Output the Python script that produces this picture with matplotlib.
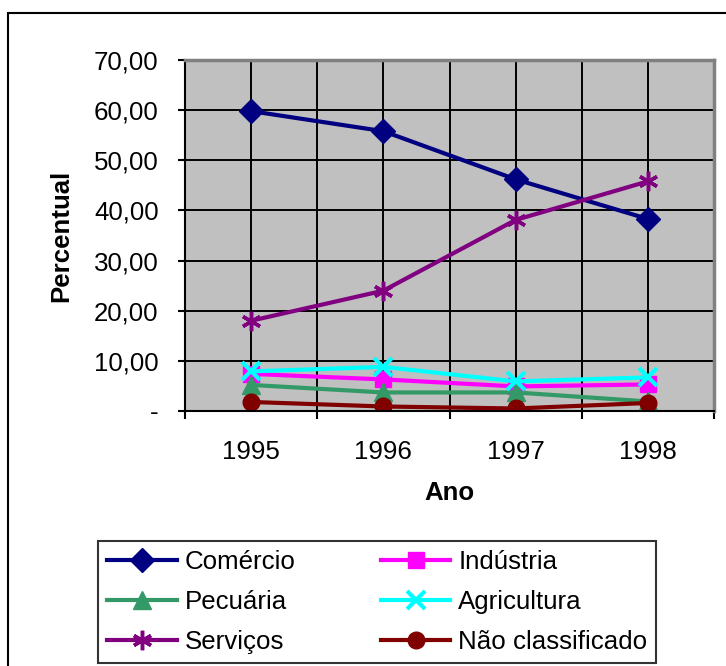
import matplotlib
matplotlib.use("Agg")
import matplotlib.pyplot as plt
from matplotlib.patches import Rectangle
from matplotlib.ticker import FixedLocator, NullFormatter

plt.rcParams['font.family'] = ['Liberation Sans', 'DejaVu Sans']

years = ['1995', '1996', '1997', '1998']
comercio = [59.8, 55.8, 46.2, 38.3]
industria = [7.4, 6.3, 4.9, 5.3]
pecuaria = [5.2, 3.7, 3.7, 1.9]
agricultura = [7.9, 8.8, 5.9, 6.7]
servicos = [18.0, 24.0, 38.1, 45.8]
nao_class = [1.8, 0.9, 0.5, 1.6]
yticks = [0, 10, 20, 30, 40, 50, 60, 70]
ytick_labels = ['-', '10,00', '20,00', '30,00', '40,00', '50,00', '60,00', '70,00']

W, H = 726, 666
fig = plt.figure(figsize=(W / 100, H / 100), dpi=100)
fig.patch.set_facecolor('white')
# outer chart frame
fig.add_artist(Rectangle((8 / W, -0.05), 1.2, (H - 13) / H + 0.05, transform=fig.transFigure,
                         fill=False, edgecolor='black', linewidth=1.5))

ax = fig.add_axes([185 / W, 1 - 411 / H, (714 - 185) / W, (411 - 60) / H])
ax.set_facecolor('#C0C0C0')

x = list(range(len(years)))
fs = 18.6
lw = 3.0
series = [
    (comercio, 'Comércio', '#000080', 'D', 12.5),
    (industria, 'Indústria', '#FF00FF', 's', 11.5),
    (pecuaria, 'Pecuária', '#339966', '^', 13),
    (agricultura, 'Agricultura', '#00FFFF', 'x', 13),
    (servicos, 'Serviços', '#800080', '*', 14),
    (nao_class, 'Não classificado', '#800000', 'o', 12),
]
handles = {}
for vals, name, col, mk, ms in series:
    if mk == 'x':
        h, = ax.plot(x, vals, color=col, lw=lw, marker=mk, ms=ms, mew=3, label=name)
    elif mk == '*':
        h, = ax.plot(x, vals, color=col, lw=lw, marker=(6, 2, 0), ms=ms, mew=2.5, mec=col, label=name)
    else:
        h, = ax.plot(x, vals, color=col, lw=lw, marker=mk, ms=ms, mec=col, mfc=col, label=name)
    handles[name] = h

ax.set_xlim(-0.5, 3.5)
ax.set_ylim(0, 70)

# x: major ticks at category boundaries, labels at centers
ax.xaxis.set_major_locator(FixedLocator([-0.5, 0.5, 1.5, 2.5, 3.5]))
ax.xaxis.set_major_formatter(NullFormatter())
ax.set_xticks(x, years, minor=True)
ax.tick_params(axis='x', which='major', direction='out', length=6, width=1.5, color='black')
ax.tick_params(axis='x', which='minor', length=0, pad=21, labelsize=fs)

ax.set_yticks(yticks, ytick_labels)
ax.tick_params(axis='y', direction='out', length=5, width=1.5, pad=14, labelsize=fs)

ax.grid(True, which='both', axis='x', color='black', lw=1.4)
ax.grid(True, which='major', axis='y', color='black', lw=1.4)
ax.set_axisbelow(True)

for s in ['top', 'right']:
    ax.spines[s].set_color('#808080')
    ax.spines[s].set_linewidth(2.5)
for s in ['left', 'bottom']:
    ax.spines[s].set_color('black')
    ax.spines[s].set_linewidth(1.5)

ax.set_xlabel('Ano', fontsize=fs, fontweight='bold', labelpad=12)
ax.set_ylabel('Percentual', fontsize=fs, fontweight='bold', labelpad=15)

order = ['Comércio', 'Pecuária', 'Serviços', 'Indústria', 'Agricultura', 'Não classificado']
leg = fig.legend([handles[n] for n in order], order, ncol=2, loc='lower left',
                 bbox_to_anchor=(98 / W, 3 / H),
                 fontsize=fs, frameon=True, fancybox=False,
                 edgecolor='black', handlelength=2.7, handletextpad=0.3,
                 labelspacing=0.62, borderpad=0.35, borderaxespad=0, columnspacing=3.3)
leg.get_frame().set_linewidth(1.5)

fig.savefig('out.png', dpi=100)
